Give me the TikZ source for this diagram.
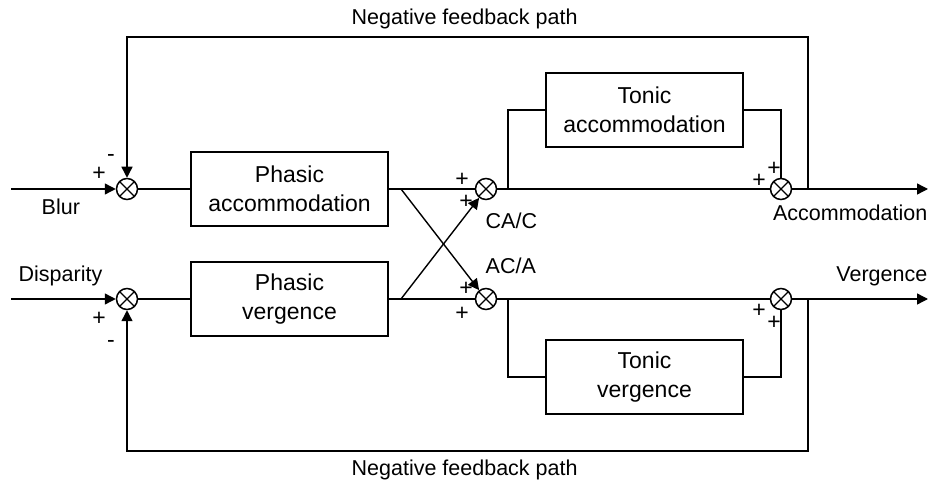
\documentclass[tikz,border=0pt]{standalone}
\usepackage{fontspec}
\setmainfont{Liberation Sans}
\usetikzlibrary{arrows.meta}
\begin{document}
\begin{tikzpicture}[x=1pt,y=-1pt,
  line width=1.4pt,
  blk/.style={draw, line width=1.7pt, minimum width=197pt, minimum height=74pt, inner sep=0pt, align=center, font=\fontsize{23}{29}\selectfont},
  sumj/.style={circle, draw, line width=1.5pt, minimum size=21pt, inner sep=0pt,
    path picture={\draw[line width=1.4pt] (path picture bounding box.north west) -- (path picture bounding box.south east) (path picture bounding box.north east) -- (path picture bounding box.south west);}},
  lbl/.style={font=\fontsize{21.5}{25}\selectfont, inner sep=0pt},
  sgn/.style={font=\fontsize{23}{27}\selectfont, inner sep=0pt, anchor=base},
  arr/.style={-{Triangle[length=11pt,width=11pt]}},
]
\useasboundingbox (0,0) rectangle (930,481);

% summing junctions
\node[sumj] (s1) at (127,189) {};
\node[sumj] (s2) at (127,299) {};
\node[sumj] (s3) at (486,189) {};
\node[sumj] (s4) at (486,299) {};
\node[sumj] (s5) at (781,189) {};
\node[sumj] (s6) at (781,299) {};

% blocks
\node[blk] (pa) at (289.5,189) {Phasic\\accommodation};
\node[blk] (pv) at (289.5,299) {Phasic\\vergence};
\node[blk] (ta) at (644.5,110) {Tonic\\accommodation};
\node[blk] (tv) at (644.5,377) {Tonic\\vergence};

% coordinates
\coordinate (inB) at (11,189);
\coordinate (inD) at (11,299);
\coordinate (xa) at (401,189);
\coordinate (xv) at (401,299);
\coordinate (ba) at (508,189);
\coordinate (bv) at (508,299);
\coordinate (outA) at (928,189);
\coordinate (outV) at (928,299);
\coordinate (fa) at (808,189);
\coordinate (fa2) at (808,37);
\coordinate (fv) at (808,299);
\coordinate (fv2) at (808,451);

% accommodation channel
\draw[arr] (inB) -- (s1);
\draw (s1) -- (pa);
\draw (pa) -- (s3);
\draw (s3) -- (s5);
\draw[arr] (s5) -- (outA);
\draw (ba) |- (ta);
\draw (ta) -| (s5);
\draw[arr] (fa) -- (fa2) -| (s1);

% vergence channel
\draw[arr] (inD) -- (s2);
\draw (s2) -- (pv);
\draw (pv) -- (s4);
\draw (s4) -- (s6);
\draw[arr] (s6) -- (outV);
\draw (bv) |- (tv);
\draw (tv) -| (s6);
\draw[arr] (fv) -- (fv2) -| (s2);

% cross links
\draw[arr] (xa) -- (s4);
\draw[arr] (xv) -- (s3);

% labels
\node[lbl, anchor=base west] (tfb) at (351,25) {Negative feedback path};
\node[lbl, anchor=base west] (bfb) at (351,475) {Negative feedback path};
\node[lbl, anchor=base west] (lblur) at (41,215) {Blur};
\node[lbl, anchor=base west] (ldisp) at (18,282) {Disparity};
\node[lbl, anchor=base west] (lcac) at (485,229) {CA/C};
\node[lbl, anchor=base west] (laca) at (485,274) {AC/A};
\node[lbl, anchor=base east] (lacc) at (928,221) {Accommodation};
\node[lbl, anchor=base east] (lver) at (928,282) {Vergence};

% signs
\node[sgn] (p1) at (99,180.3) {+};
\node[sgn] (m1) at (111,161.2) {-};
\node[sgn] (p2) at (99,325.3) {+};
\node[sgn] (m2) at (111,347.7) {-};
\node[sgn] (p3a) at (462,186.3) {+};
\node[sgn] (p3b) at (466,208.3) {+};
\node[sgn] (p4a) at (466,295.3) {+};
\node[sgn] (p4b) at (462,320.3) {+};
\node[sgn] (p5a) at (774,175.3) {+};
\node[sgn] (p5b) at (759,187.3) {+};
\node[sgn] (p6a) at (759,317.3) {+};
\node[sgn] (p6b) at (774,329.3) {+};
\end{tikzpicture}
\end{document}
